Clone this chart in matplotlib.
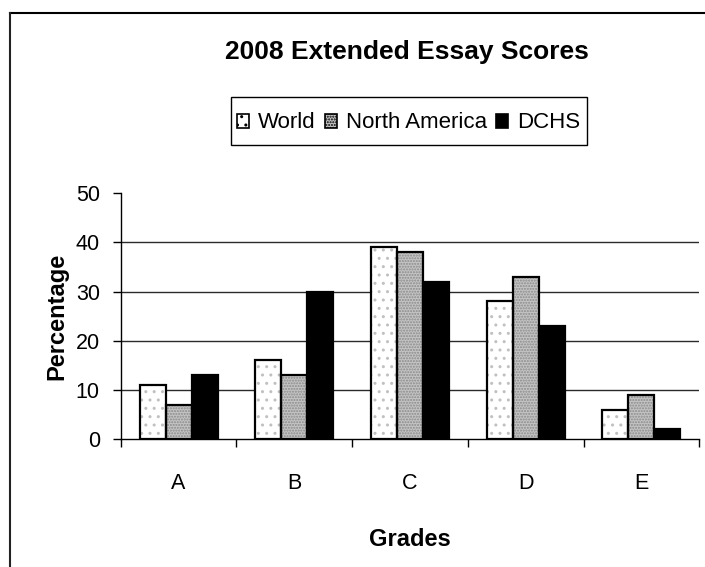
import matplotlib
matplotlib.use("Agg")
import matplotlib.pyplot as plt
from matplotlib.lines import Line2D
from matplotlib.patches import Patch, Rectangle
import numpy as np

plt.rcParams['font.family'] = ['Liberation Sans', 'DejaVu Sans']

categories = ["A", "B", "C", "D", "E"]
series_names = ["World", "North America", "DCHS"]
world = [11, 16, 39, 28, 6]
north_america = [7, 13, 38, 33, 9]
dchs = [13, 30, 32, 23, 2]
yticks = [0, 10, 20, 30, 40, 50]

W, H = 705, 567
fig = plt.figure(figsize=(W / 100, H / 100), dpi=100)
ax = fig.add_axes([120.7 / W, 1 - 439.3 / H, 578.5 / W, 246.3 / H])

x = np.arange(len(categories))
bw = 0.225
styles = [
    dict(face="white", hatch="..", hcol="#c0c0c0"),
    dict(face="#c4c4c4", hatch="......", hcol="#8a8a8a"),
    dict(face="black", hatch=None, hcol="black"),
]
data = [world, north_america, dchs]
offsets = [-bw, 0, bw]
for vals, off, st in zip(data, offsets, styles):
    ax.bar(x + off, vals, bw, color=st["face"], edgecolor=st["hcol"],
           hatch=st["hatch"], linewidth=0, zorder=3)
    ax.bar(x + off, vals, bw, fill=False, edgecolor="black",
           linewidth=1.6, zorder=4)

ax.set_xlim(-0.5, len(categories) - 0.5)
ax.set_ylim(0, 50)
ax.set_yticks(yticks)
ax.set_yticklabels([str(t) for t in yticks], fontsize=15.5)
for t in yticks[1:-1]:
    ax.axhline(t, color="#2a2a2a", linewidth=1.0, zorder=1)

ax.set_xticks(x)
ax.set_xticklabels(categories, fontsize=15.5)
ax.set_xticks(np.arange(len(categories) + 1) - 0.5, minor=True)
ax.tick_params(axis="x", which="major", length=0, pad=24)
ax.tick_params(axis="x", which="minor", length=6, width=1, color="black")
ax.tick_params(axis="y", length=6, width=1, pad=9)

for s in ["top", "right"]:
    ax.spines[s].set_visible(False)
for s in ["left", "bottom"]:
    ax.spines[s].set_color("black")
    ax.spines[s].set_linewidth(1.0)

ax.set_ylabel("Percentage", fontsize=17, fontweight="bold", labelpad=5)
ax.set_xlabel("Grades", fontsize=17, fontweight="bold", labelpad=25)

fig.text(407 / W, 1 - 52 / H, "2008 Extended Essay Scores", fontsize=19,
         fontweight="bold", ha="center", va="center")

handles = [
    Patch(facecolor="white", edgecolor="black", hatch="..", linewidth=1.2),
    Patch(facecolor="#c4c4c4", edgecolor="black", hatch="......", linewidth=1.2),
    Patch(facecolor="black", edgecolor="black", linewidth=1.2),
]
leg = fig.legend(handles, series_names, loc="center", ncol=3,
                 bbox_to_anchor=(408.7 / W, 1 - 123 / H), fontsize=16,
                 frameon=False, handlelength=0.55,
                 handleheight=0.6, handletextpad=0.4, columnspacing=0.4,
                 borderpad=0, borderaxespad=0)
fig.add_artist(Rectangle((230.7 / W, 1 - 145 / H), 356 / W, 47.7 / H,
                         transform=fig.transFigure, fill=False,
                         edgecolor="black", linewidth=1.0))

fig.add_artist(Line2D([10 / W, 704 / W], [1 - 13 / H, 1 - 13 / H],
                      transform=fig.transFigure, color="black", linewidth=1.5))
fig.add_artist(Line2D([10 / W, 10 / W], [1 - 13 / H, 0],
                      transform=fig.transFigure, color="#222222", linewidth=1.5))

fig.savefig("out.png", dpi=100)
